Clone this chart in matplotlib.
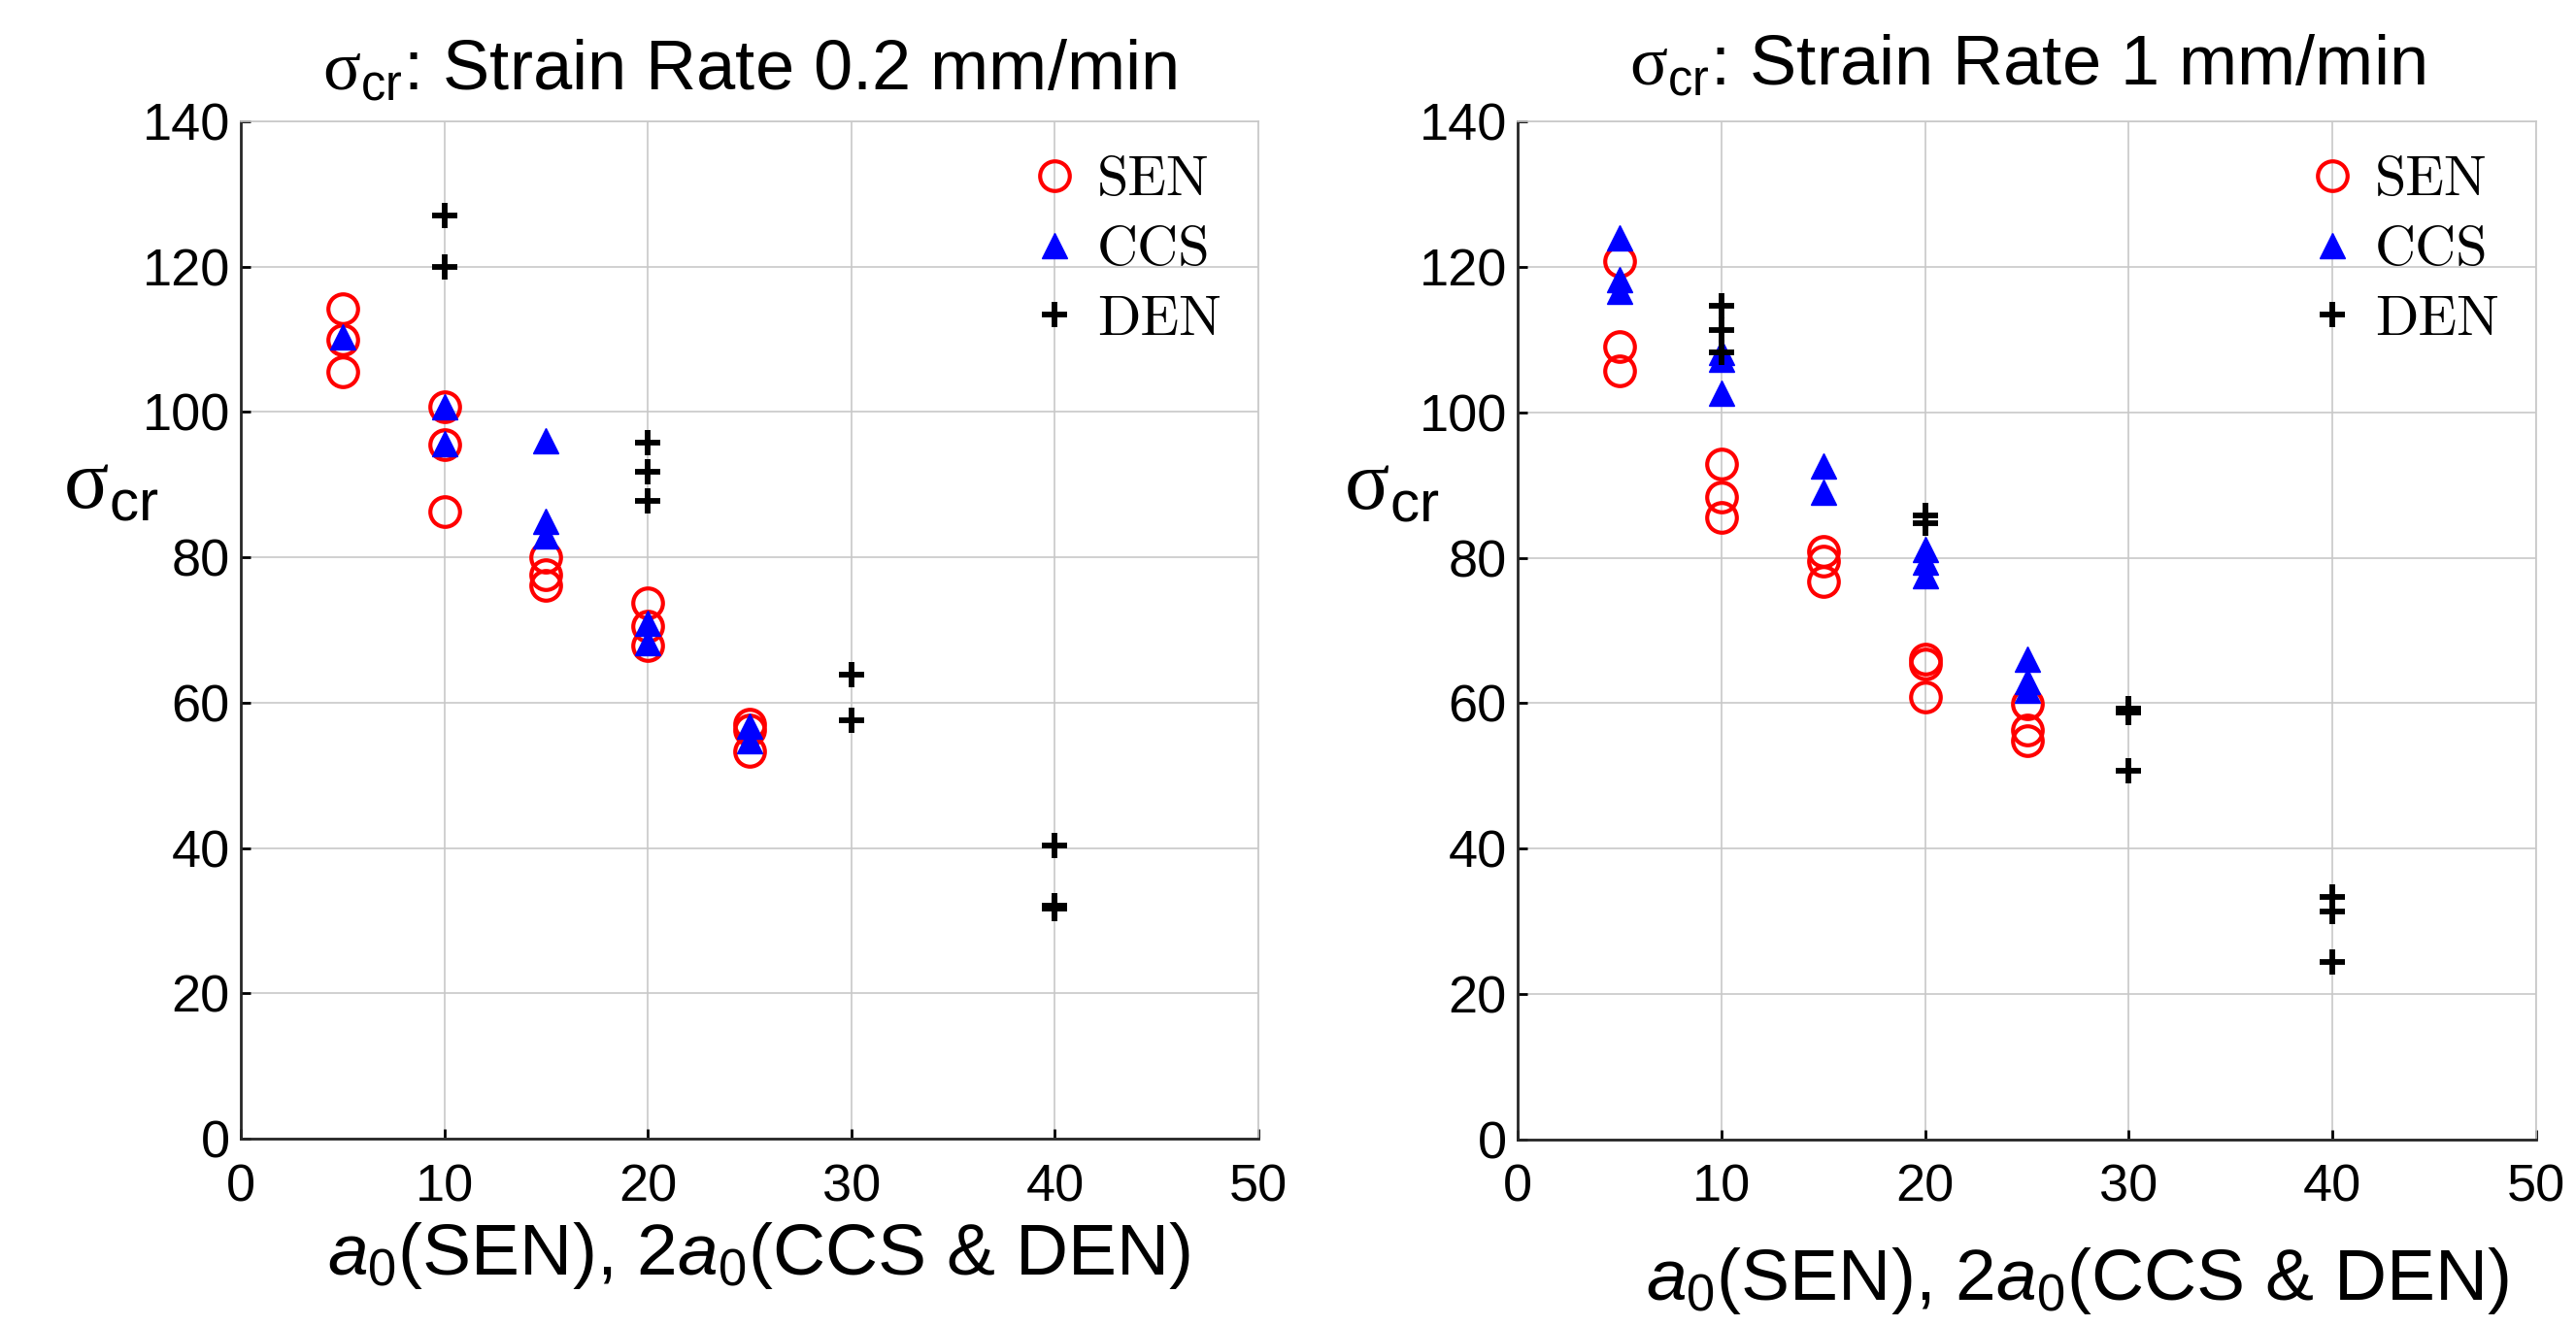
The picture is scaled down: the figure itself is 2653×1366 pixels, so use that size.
import matplotlib
matplotlib.use("Agg")
import matplotlib.pyplot as plt

plt.rcParams['font.family'] = ['Liberation Sans', 'DejaVu Sans']
plt.rcParams['mathtext.fontset'] = 'custom'
plt.rcParams['mathtext.rm'] = 'Liberation Sans'
plt.rcParams['mathtext.it'] = 'Liberation Sans:italic'
plt.rcParams['mathtext.cal'] = 'Liberation Serif'

# ---- data: strain rate 0.2 mm/min ----
sen_x_02 = [5, 5, 5, 10, 10, 10, 15, 15, 15, 20, 20, 20, 25, 25, 25]
sen_y_02 = [114.2, 110.0, 105.6, 100.7, 95.5, 86.3, 80.0, 77.6, 76.1,
            73.7, 70.6, 67.8, 57.0, 56.2, 53.3]
ccs_x_02 = [5, 10, 10, 15, 15, 15, 20, 20, 25, 25]
ccs_y_02 = [110.4, 100.7, 95.6, 96.1, 84.9, 82.9, 71.0, 68.3, 56.8, 54.8]
den_x_02 = [10, 10, 20, 20, 20, 30, 30, 40, 40, 40]
den_y_02 = [127.0, 120.0, 95.8, 91.8, 87.8, 63.8, 57.6, 40.3, 32.0, 31.6]

# ---- data: strain rate 1 mm/min ----
sen_x_1 = [5, 5, 5, 10, 10, 10, 15, 15, 15, 20, 20, 20, 25, 25, 25]
sen_y_1 = [120.8, 109.0, 105.7, 92.9, 88.3, 85.5, 80.9, 79.6, 76.8,
           66.0, 65.4, 60.9, 59.9, 56.3, 54.8]
ccs_x_1 = [5, 5, 5, 10, 10, 10, 15, 15, 20, 20, 20, 25, 25, 25]
ccs_y_1 = [124.0, 118.2, 116.6, 108.3, 107.3, 102.6, 92.6, 89.0,
           81.2, 79.4, 77.6, 66.0, 63.0, 61.8]
den_x_1 = [10, 10, 10, 20, 20, 30, 30, 30, 40, 40, 40]
den_y_1 = [114.6, 111.3, 108.2, 85.8, 84.8, 59.2, 58.7, 50.7, 33.4, 31.3, 24.4]

W, H = 2653, 1366
fig = plt.figure(figsize=(W / 100, H / 100), dpi=100)
fig.patch.set_facecolor('white')

ax1 = fig.add_axes([248 / W, 1 - 1173 / H, 1048 / W, 1048 / H])
ax2 = fig.add_axes([1563 / W, 1 - 1174 / H, 1049 / W, 1049 / H])

panels = [
    (ax1, sen_x_02, sen_y_02, ccs_x_02, ccs_y_02, den_x_02, den_y_02,
     'Strain Rate 0.2 mm/min', 24, (0.509, -0.115), (-0.128, 0.641)),
    (ax2, sen_x_1, sen_y_1, ccs_x_1, ccs_y_1, den_x_1, den_y_1,
     'Strain Rate 1 mm/min', 27, (0.550, -0.139), (-0.124, 0.641)),
]

for ax, sx, sy, cx, cy, dx, dy, title, tpad, xl_pos, yl_pos in panels:
    ax.plot(sx, sy, 'o', ls='none', ms=22, mfc='none', mec='red', mew=3, label='SEN')
    ax.plot(cx, cy, '^', ls='none', ms=19, mfc='blue', mec='blue', mew=1, label='CCS')
    ax.plot(dx, dy, '+', ls='none', ms=19, mec='black', mew=4.2, label='DEN')

    ax.set_xlim(0, 50)
    ax.set_ylim(0, 140)
    ax.set_xticks(range(0, 51, 10))
    ax.set_yticks(range(0, 141, 20))
    ax.grid(True, color='#c8c8c8', lw=1.2)
    ax.set_axisbelow(True)
    ax.tick_params(direction='in', length=7, width=2, labelsize=39,
                   top=False, right=False, pad=8)
    ax.tick_params(axis='x', pad=18)
    for s in ['left', 'bottom']:
        ax.spines[s].set_color('#262626')
        ax.spines[s].set_linewidth(2)
    for s in ['top', 'right']:
        ax.spines[s].set_color('#c8c8c8')
        ax.spines[s].set_linewidth(1.2)

    ax.set_title(r'$\mathcal{\sigma}_{\mathrm{cr}}$: ' + title, fontsize=52, pad=tpad)
    ax.set_xlabel(r'$a_{\mathrm{0}}$(SEN), 2$a_{\mathrm{0}}$(CCS & DEN)', fontsize=54,
                  va='center')
    ax.xaxis.set_label_coords(*xl_pos)
    ax.set_ylabel(r'$\mathcal{\sigma}_{\mathrm{cr}}$', fontsize=62, rotation=0,
                  ha='center', va='center')
    ax.yaxis.set_label_coords(*yl_pos)

    ax.legend(loc='upper left', bbox_to_anchor=(0.772, 0.966), frameon=False,
              prop={'family': 'cmr10', 'size': 42}, borderpad=0, borderaxespad=0,
              handlelength=1.0, handletextpad=0.25, labelspacing=0.34)

fig.savefig('out.png', dpi=100, facecolor='white')
